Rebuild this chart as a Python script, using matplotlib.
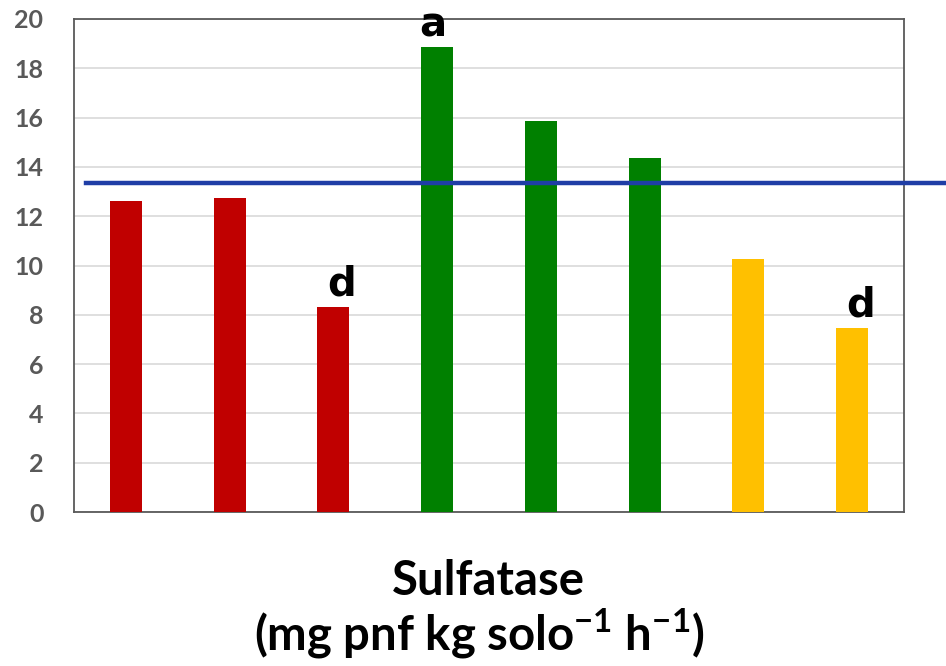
import matplotlib
matplotlib.use("Agg")
import matplotlib.pyplot as plt

values = [12.6, 12.75, 8.33, 18.85, 15.85, 14.38, 10.27, 7.48]
colors = ["#C00000", "#C00000", "#C00000", "#008000", "#008000", "#008000", "#FFC000", "#FFC000"]
letters = {3: "a", 2: "d", 7: "d"}
mean_line = 13.35
yticks = [0, 2, 4, 6, 8, 10, 12, 14, 16, 18, 20]

plt.rcParams['mathtext.fontset'] = 'custom'
plt.rcParams['mathtext.bf'] = 'Lato:bold'
plt.rcParams['mathtext.rm'] = 'Lato'

fig = plt.figure(figsize=(9.46, 6.66), dpi=100)
ax = fig.add_axes([0.0782, 0.2312, 0.8774, 0.7403])

x = list(range(len(values)))
ax.bar(x, values, width=0.31, color=colors, zorder=3)
ax.set_xlim(-0.5, len(values) - 0.5)
ax.set_ylim(0, 20)
ax.set_yticks(yticks)
ax.set_yticklabels([str(t) for t in yticks], fontname="Lato", fontsize=18,
                   fontweight="bold", color="#595959")
ax.set_xticks([])
ax.tick_params(axis="y", length=0, pad=22)
ax.grid(axis="y", color="#d9d9d9", linewidth=1.2, zorder=0)
for s in ax.spines.values():
    s.set_color("#595959")
    s.set_linewidth(1.3)

ax.axhline(mean_line, xmin=0.0145, xmax=1.06, color="#1f3ea6", linewidth=3.2, clip_on=False, zorder=4)

for i, lab in letters.items():
    dx = -0.04 if lab == "a" else 0.08
    ax.text(i + dx, values[i] + 0.45, lab, ha="center", va="baseline",
            fontsize=29, fontweight="bold", fontname="DejaVu Sans", color="black", zorder=5)

fig.text(0.516, 0.128, "Sulfatase", ha="center", va="center", fontsize=34,
         fontweight="bold", fontname="Lato")
fig.text(0.507, 0.05, r"(mg pnf kg solo$^{\mathbf{-1}}$ h$^{\mathbf{-1}}$)", ha="center", va="center",
         fontsize=34, fontweight="bold", fontname="Lato")

fig.savefig("out.png", dpi=100)
